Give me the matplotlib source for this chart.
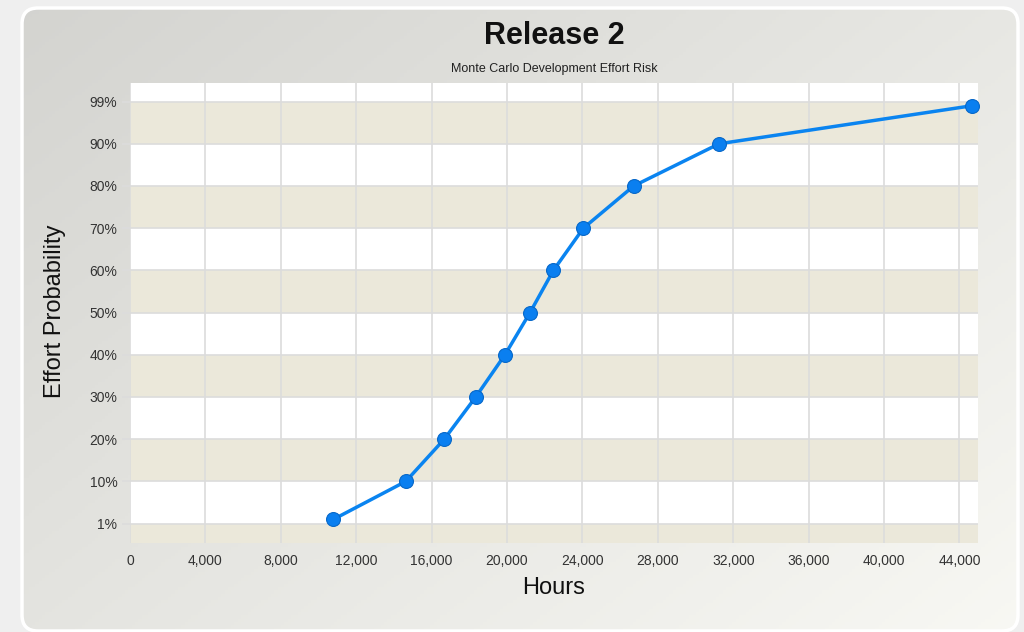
import numpy as np
import matplotlib
matplotlib.use("Agg")
import matplotlib.pyplot as plt
from matplotlib.patches import FancyBboxPatch

plt.rcParams['font.family'] = ['Liberation Sans', 'DejaVu Sans']

# Effort (hours) at each probability level
hours = [10790, 14630, 16670, 18340, 19890, 21220, 22460, 24050, 26720, 31250, 44650]
probability = [1, 10, 20, 30, 40, 50, 60, 70, 80, 90, 99]

# Axis ticks
y_ticks = [0, 10, 20, 30, 40, 50, 60, 70, 80, 90, 100]
y_tick_labels = ['1%', '10%', '20%', '30%', '40%', '50%', '60%', '70%', '80%', '90%', '99%']
x_ticks = list(range(0, 44001, 4000))
x_tick_labels = [f"{v:,}" for v in x_ticks]

title = "Release 2"
subtitle = "Monte Carlo Development Effort Risk"
x_label = "Hours"
y_label = "Effort Probability"

W, H = 1024, 632
fig = plt.figure(figsize=(W / 100, H / 100), dpi=100)
fig.patch.set_facecolor('#efefef')

# Background panel with a diagonal gradient and rounded corners
bg = fig.add_axes([0, 0, 1, 1], zorder=-5)
bg.set_xlim(0, W)
bg.set_ylim(H, 0)
bg.axis('off')
px0, py0, px1, py1 = 22, 8, 1018, 631
yy, xx = np.mgrid[0:1:200j, 0:1:300j]
t = np.clip(0.55 * xx + 0.45 * yy, 0, 1)
c0 = np.array([0.830, 0.830, 0.815])
c1 = np.array([0.972, 0.972, 0.955])
grad = c0[None, None, :] * (1 - t[..., None]) + c1[None, None, :] * t[..., None]
panel = FancyBboxPatch((px0, py0), px1 - px0, py1 - py0,
                       boxstyle="round,pad=0,rounding_size=16",
                       facecolor='none', edgecolor='white', linewidth=2.5, zorder=3)
bg.add_patch(panel)
im = bg.imshow(grad, extent=(px0, px1, py1, py0), aspect='auto', zorder=1)
im.set_clip_path(panel)

# Plot area
ax = fig.add_axes([130 / W, 1 - 543 / H, (978.3 - 130) / W, (543 - 83) / H])
ax.set_facecolor('white')
ax.set_xlim(0, 45000)
ax.set_ylim(-4.6, 104.4)

beige = '#ebe8da'
ax.axhspan(-10, y_ticks[0], color=beige, lw=0, zorder=0)
for i in range(1, len(y_ticks) - 1, 2):
    ax.axhspan(y_ticks[i], y_ticks[i + 1], color=beige, lw=0, zorder=0)

ax.set_xticks(x_ticks)
ax.set_xticklabels(x_tick_labels, va='baseline')
ax.set_yticks(y_ticks)
ax.set_yticklabels(y_tick_labels)
ax.grid(True, color='#dcdcdc', linewidth=1.2, zorder=1)
ax.set_axisbelow(True)
for s in ax.spines.values():
    s.set_visible(False)
ax.tick_params(axis='x', length=0, pad=15.5, labelsize=10, labelcolor='#333333')
ax.tick_params(axis='y', length=6, width=1.2, color='#dcdcdc', pad=3,
               labelsize=10, labelcolor='#333333')

ax.plot(hours, probability, color='#0a84f0', linewidth=2.5, zorder=4,
        marker='o', markersize=10, markerfacecolor='#0a7ff0',
        markeredgecolor='#0868c8', markeredgewidth=0.8, clip_on=False)

fig.text(554 / W, 1 - 588 / H, x_label, ha='center', va='center',
         fontsize=17, color='#111111')
fig.text(55 / W, 1 - 311 / H, y_label, ha='center', va='center',
         rotation=90, fontsize=17, color='#111111')

fig.text(554 / W, 1 - 36 / H, title, ha='center', va='center',
         fontsize=22, fontweight='bold', color='#111111')
fig.text(554 / W, 1 - 69 / H, subtitle, ha='center', va='center',
         fontsize=9, color='#222222')

fig.savefig('out.png', dpi=100, facecolor=fig.get_facecolor())
